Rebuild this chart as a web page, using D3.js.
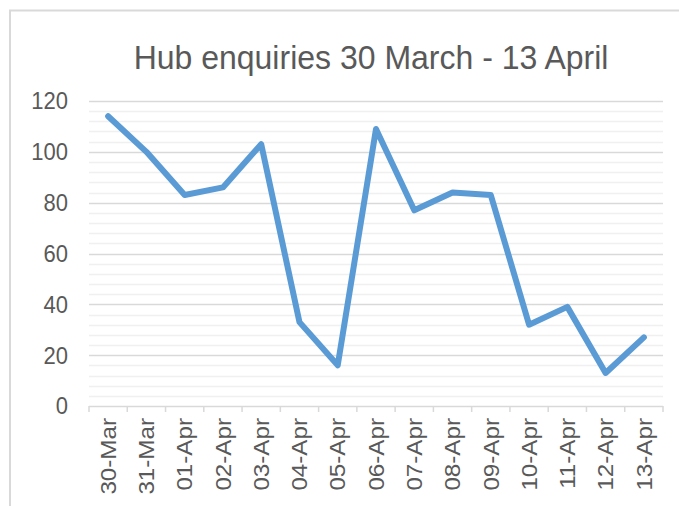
<!DOCTYPE html>
<html>
<head>
<meta charset="utf-8">
<script src="https://cdn.jsdelivr.net/npm/d3@7"></script>
<style>
  body { margin: 0; background: #fff; }
  text { font-family: "Liberation Sans", Arial, sans-serif; fill: #595959; }
</style>
</head>
<body>
<div id="chart"></div>
<script>
var svgWidth = 679;
var svgHeight = 506;

var margin = { top: 101, right: 16, bottom: 100, left: 89 };
var width = svgWidth - margin.left - margin.right;
var height = svgHeight - margin.top - margin.bottom;

// data
var days = ["30-Mar", "31-Mar", "01-Apr", "02-Apr", "03-Apr", "04-Apr", "05-Apr", "06-Apr",
            "07-Apr", "08-Apr", "09-Apr", "10-Apr", "11-Apr", "12-Apr", "13-Apr"];
var enquiries = [114, 100, 83, 86, 103, 33, 16, 109, 77, 84, 83, 32, 39, 13, 27];
var yTicks = [0, 20, 40, 60, 80, 100, 120];

// the picture is slightly stretched vertically, text too
var stretch = 1.1;

var svg = d3.select("#chart")
    .append("svg")
    .attr("width", svgWidth)
    .attr("height", svgHeight);

// chart area border
svg.append("rect")
    .attr("x", 10)
    .attr("y", 10.5)
    .attr("width", 800)
    .attr("height", 800)
    .attr("fill", "none")
    .attr("stroke", "#d9d9d9")
    .attr("stroke-width", 2);

svg.append("text")
    .attr("transform", "translate(371,69) scale(1,1.05)")
    .attr("text-anchor", "middle")
    .style("font-size", "32px")
    .text("Hub enquiries 30 March - 13 April");

var chart = svg.append("g")
    .attr("transform", "translate(" + margin.left + "," + margin.top + ")");

var xScale = d3.scaleBand().domain(days).range([0, width]);
var yScale = d3.scaleLinear().domain([0, 120]).range([height, 0]);

// minor gridlines every 4
chart.append("g")
    .selectAll("line")
    .data(d3.range(4, 120, 4).filter(function(v) { return v % 20 !== 0; }))
    .enter().append("line")
    .attr("x1", 0)
    .attr("x2", width)
    .attr("y1", function(d) { return Math.round(yScale(d)) + 0.5; })
    .attr("y2", function(d) { return Math.round(yScale(d)) + 0.5; })
    .attr("stroke", "#f0f0f0")
    .attr("stroke-width", 1.5);

// major gridlines
chart.append("g")
    .selectAll("line")
    .data(yTicks.slice(1))
    .enter().append("line")
    .attr("x1", 0)
    .attr("x2", width)
    .attr("y1", function(d) { return Math.round(yScale(d)) + 0.5; })
    .attr("y2", function(d) { return Math.round(yScale(d)) + 0.5; })
    .attr("stroke", "#d9d9d9")
    .attr("stroke-width", 1.5);

// y axis labels
chart.append("g")
    .selectAll("text")
    .data(yTicks)
    .enter().append("text")
    .attr("transform", function(d) {
        return "translate(-21," + yScale(d) + ") scale(1," + stretch + ")";
    })
    .attr("text-anchor", "end")
    .attr("dy", "0.35em")
    .style("font-size", "22px")
    .text(function(d) { return d; });

// x axis: baseline, ticks at band edges
chart.append("line")
    .attr("x1", 0)
    .attr("x2", width)
    .attr("y1", height + 0.5)
    .attr("y2", height + 0.5)
    .attr("stroke", "#d9d9d9")
    .attr("stroke-width", 1.5);

chart.append("g")
    .selectAll("line")
    .data(days.concat(["end"]))
    .enter().append("line")
    .attr("x1", function(d, i) { return i < days.length ? xScale(d) : width; })
    .attr("x2", function(d, i) { return i < days.length ? xScale(d) : width; })
    .attr("y1", height)
    .attr("y2", height + 6)
    .attr("stroke", "#d9d9d9")
    .attr("stroke-width", 1.5);

chart.append("g")
    .selectAll("text")
    .data(days)
    .enter().append("text")
    .attr("transform", function(d) {
        var x = xScale(d) + xScale.bandwidth() / 2;
        return "translate(" + x + "," + (height + 12) + ") rotate(-90) scale(" + stretch + ",1)";
    })
    .attr("text-anchor", "end")
    .attr("dy", "0.35em")
    .style("font-size", "22px")
    .text(function(d) { return d; });

// the line
var line = d3.line()
    .x(function(d, i) { return xScale(days[i]) + xScale.bandwidth() / 2; })
    .y(function(d) { return yScale(d); });

chart.append("path")
    .datum(enquiries)
    .attr("d", line)
    .attr("fill", "none")
    .attr("stroke", "#5b9bd5")
    .attr("stroke-width", 6)
    .attr("stroke-linejoin", "round")
    .attr("stroke-linecap", "round");
</script>
</body>
</html>
